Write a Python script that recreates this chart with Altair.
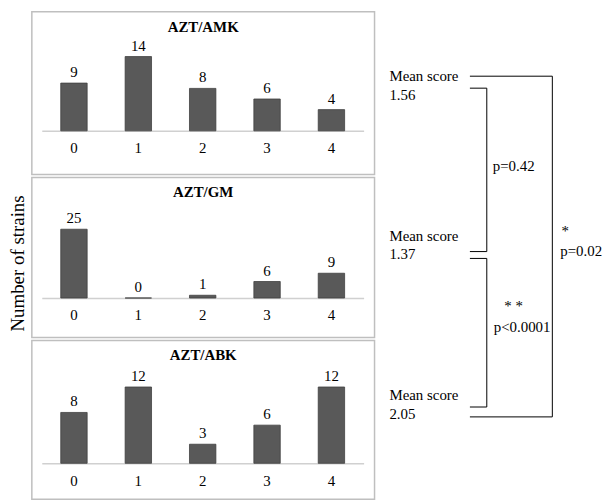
import altair as alt
import pandas as pd

# ---- data ----
scores = ["0", "1", "2", "3", "4"]
panel_names = ["AZT/AMK", "AZT/GM", "AZT/ABK"]
amk_counts = [9, 14, 8, 6, 4]
gm_counts = [25, 0, 1, 6, 9]
abk_counts = [8, 12, 3, 6, 12]
mean_scores = ["1.56", "1.37", "2.05"]
comparisons = [(0, 1), (1, 2), (0, 2)]
p_labels = ["p=0.42", "p<0.0001", "p=0.02"]
star_labels = ["", "* *", "*"]

FONT = "Liberation Serif"
BAR = "#595959"
BOX = "#bfbfbf"

# ---- layout (pixels) ----
PW = 345
panel_layout = [  # height, px per unit, baseline distance from bottom
    (164, 5.34, 44.0),
    (161, 2.77, 39.7),
    (160, 6.40, 36.3),
]
VSPACE = 1


def panel(name, counts, layout):
    H, ppu, base = layout
    df = pd.DataFrame({"score": scores, "count": counts})
    x = alt.X(
        "score:N",
        sort=scores,
        scale=alt.Scale(range=[10, 334], paddingInner=0.59, paddingOuter=0.295),
        axis=alt.Axis(
            title=None, labelAngle=0, ticks=False, tickSize=0, grid=False,
            domainColor="#d0d0d0", domainWidth=1.5, offset=-base,
            labelFont=FONT, labelFontSize=15, labelColor="black",
            labelPadding=17, labelBaseline="middle",
        ),
    )
    y = alt.Y(
        "count:Q",
        scale=alt.Scale(domain=[-base / ppu, (H - base) / ppu], nice=False, zero=False),
        axis=None,
    )
    base_chart = alt.Chart(df).encode(x=x, y=y)
    bars = base_chart.mark_bar(color=BAR, stroke="#404040", strokeWidth=0.8)
    labels = base_chart.mark_text(
        font=FONT, fontSize=15, color="black", baseline="alphabetic", dy=-6
    ).encode(text="count:Q")
    title = alt.Chart(pd.DataFrame({"t": [name]})).mark_text(
        font=FONT, fontSize=15, fontWeight="bold", color="black", baseline="middle"
    ).encode(x=alt.value(PW / 2), y=alt.value(15), text="t:N")
    return alt.layer(bars, labels, title).properties(
        width=PW, height=H,
        view=alt.ViewBackground(stroke=BOX, strokeWidth=1.5, fill="white"),
    )


panels = alt.vconcat(
    panel(panel_names[0], amk_counts, panel_layout[0]),
    panel(panel_names[1], gm_counts, panel_layout[1]),
    panel(panel_names[2], abk_counts, panel_layout[2]),
    spacing=VSPACE,
)

# ---- annotation column ----
HA = sum(h for h, _, _ in panel_layout) + 2 * VSPACE
WA = 224
UNIT = 160.5       # px between consecutive panels' labels
FIRST = 65.0       # px from top to first "Mean score"
d0 = -FIRST / UNIT
yscale = alt.Scale(domain=[d0, d0 + HA / UNIT], reverse=True, nice=False, zero=False)

mean_df = pd.DataFrame({
    "idx": [0, 1, 2],
    "mean": mean_scores,
    "head": ["Mean score"] * 3,
})
mean_df["idx2"] = mean_df["idx"] + 0.118

txt_style = dict(font=FONT, fontSize=15, color="black", baseline="middle")
head_txt = alt.Chart(mean_df).mark_text(align="left", **txt_style).encode(
    x=alt.value(14), y=alt.Y("idx:Q", scale=yscale, axis=None), text="head:N")
val_txt = alt.Chart(mean_df).mark_text(align="left", **txt_style).encode(
    x=alt.value(14), y=alt.Y("idx2:Q", scale=yscale, axis=None), text="mean:N")

# bracket geometry: offsets (panel units) and horizontal pixel positions
geom = [
    dict(t=0.075, b=0.100, xo=112, lx=118, ly=0.561, sx=139, sy=0.40),
    dict(t=0.143, b=0.075, xo=112, lx=119, ly=1.576, sx=139, sy=1.439),
    dict(t=0.000, b=0.137, xo=178, lx=186, ly=1.097, sx=191, sy=0.972),
]
rows = []
for (a, b), p, s, g in zip(comparisons, p_labels, star_labels, geom):
    rows.append(dict(top=a + g["t"], bot=b + g["b"], xi=95, xo=g["xo"],
                     lx=g["lx"], ly=g["ly"], sx=g["sx"], sy=g["sy"], p=p, star=s))
br = pd.DataFrame(rows)

rule_style = dict(color="black", strokeWidth=1)
top_rule = alt.Chart(br).mark_rule(**rule_style).encode(
    x=alt.X("xi:Q", scale=None, axis=None), x2="xo:Q",
    y=alt.Y("top:Q", scale=yscale, axis=None))
bot_rule = alt.Chart(br).mark_rule(**rule_style).encode(
    x=alt.X("xi:Q", scale=None, axis=None), x2="xo:Q",
    y=alt.Y("bot:Q", scale=yscale, axis=None))
vert_rule = alt.Chart(br).mark_rule(**rule_style).encode(
    x=alt.X("xo:Q", scale=None, axis=None),
    y=alt.Y("top:Q", scale=yscale, axis=None), y2="bot:Q")
p_txt = alt.Chart(br).mark_text(align="left", **txt_style).encode(
    x=alt.X("lx:Q", scale=None, axis=None),
    y=alt.Y("ly:Q", scale=yscale, axis=None), text="p:N")
s_txt = alt.Chart(br).mark_text(align="center", **txt_style).encode(
    x=alt.X("sx:Q", scale=None, axis=None),
    y=alt.Y("sy:Q", scale=yscale, axis=None), text="star:N")

annot = alt.layer(head_txt, val_txt, top_rule, bot_rule, vert_rule, p_txt, s_txt).properties(
    width=WA, height=HA,
    view=alt.ViewBackground(stroke="transparent", strokeWidth=0),
)

chart = alt.hconcat(panels, annot, spacing=0).properties(
    title=alt.TitleParams(
        "Number of strains", orient="left", anchor="middle", font=FONT,
        fontSize=19, fontWeight="normal", color="black", offset=3, dx=-8,
    ),
    padding={"left": 1, "top": 1, "right": 0, "bottom": 0},
).configure_view(strokeWidth=0, stroke="transparent").configure(background="white")

chart.save("out.html", embed_options={"renderer": "svg", "actions": False})
